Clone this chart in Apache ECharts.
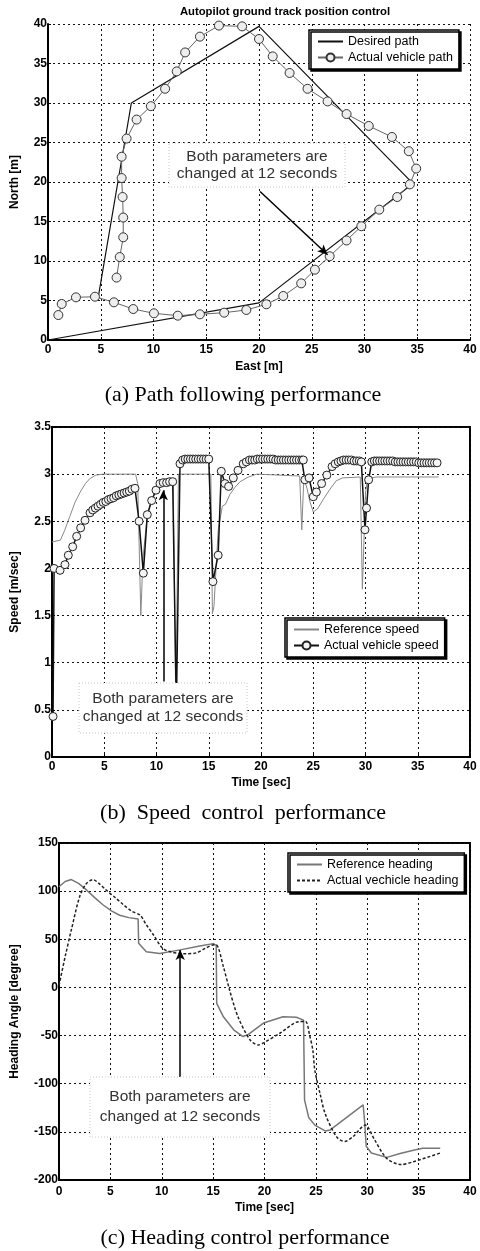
<!DOCTYPE html>
<html>
<head>
<meta charset="utf-8">
<script src="https://cdn.jsdelivr.net/npm/echarts@6/dist/echarts.min.js"></script>
<style>
  html, body { margin: 0; padding: 0; background: #fff; }
  #chart { width: 480px; height: 1251px; }
</style>
</head>
<body>
<div id="chart"></div>
<script>
// ---- (a) ground track ----
var desiredEast  = [0, 20, 34.6, 20, 7.9, 4.8];
var desiredNorth = [0, 4.7, 19.8, 39.7, 30, 5.7];

var actualEast  = [0.98, 1.3, 2.65, 4.45, 6.25, 8.08, 10.04, 12.3, 14.4, 16.7, 18.8, 20.7, 22.3, 24.0, 25.3,
  26.7, 28.3, 29.7, 31.4, 33.1, 34.3, 34.9, 34.2, 32.6, 30.4, 28.3, 26.5, 24.6, 22.9, 21.3, 20.0, 18.4, 16.2,
  14.4, 13.0, 12.2, 11.1, 9.75, 8.4, 7.45, 6.98, 6.98, 7.07, 7.13, 7.13, 6.8, 6.5];
var actualNorth = [3.16, 4.56, 5.4, 5.48, 4.77, 3.92, 3.38, 3.08, 3.25, 3.46, 3.8, 4.52, 5.57, 7.17, 8.9,
  10.6, 12.6, 14.4, 16.5, 18.1, 19.7, 21.7, 23.9, 25.7, 27.1, 28.6, 30.2, 31.8, 33.8, 35.9, 38.1, 39.7, 39.8,
  38.4, 36.4, 34.0, 31.8, 29.6, 27.9, 25.5, 23.2, 20.5, 18.1, 15.5, 13.0, 10.5, 7.9];

// ---- (b) speed ----
var refSpeedTime = [0, 0.8, 1.2, 1.7, 2.2, 2.7, 3.2, 3.6, 4.2, 4.9, 8.0, 8.2, 8.5, 8.7, 9.1, 9.5, 10.0, 10.4,
  11.6, 11.85, 12.1, 15.2, 15.35, 15.5, 15.9, 16.3, 16.6, 17.0, 17.5, 18.0, 18.8, 19.6, 23.7, 23.9, 24.1, 24.4,
  24.7, 25.0, 25.4, 26.0, 26.6, 27.2, 27.8, 29.5, 29.7, 30.0, 30.2, 31.0, 37.0];
var refSpeed = [2.28, 2.30, 2.40, 2.55, 2.70, 2.81, 2.90, 2.95, 2.99, 3.00, 3.00, 2.90, 1.50, 2.10, 2.55, 2.72,
  2.84, 2.90, 2.93, 0.50, 3.00, 3.00, 1.52, 1.60, 2.40, 2.66, 2.68, 2.78, 2.86, 2.92, 2.97, 3.00, 2.98, 2.41,
  2.96, 2.85, 2.70, 2.60, 2.63, 2.74, 2.84, 2.93, 2.96, 2.97, 1.78, 2.80, 2.95, 2.97, 2.97];

var actSpeedTime = [
  0.10, 0.20, 0.77, 1.24, 1.56, 1.98, 2.36, 2.74, 3.16, 3.64,
  3.90, 4.15, 4.40, 4.65, 4.90, 5.15, 5.40, 5.65, 5.90, 6.15,
  6.40, 6.65, 6.90, 7.15, 7.40, 7.65, 7.94, 8.33, 8.74, 9.12,
  9.54, 9.95, 10.33, 10.65, 10.97, 11.25, 11.55, 11.90, 12.25, 12.50,
  12.75, 13.00, 13.25, 13.50, 13.75, 14.00, 14.25, 14.50, 14.75, 15.00,
  15.40, 15.90, 16.20, 16.55, 16.90, 17.35, 17.80, 18.30, 18.60, 18.90,
  19.15, 19.40, 19.65, 19.90, 20.15, 20.40, 20.65, 20.90, 21.15, 21.40,
  21.65, 21.90, 22.15, 22.40, 22.65, 22.90, 23.15, 23.40, 23.65, 23.90,
  24.05, 24.20, 24.60, 25.00, 25.30, 25.80, 26.30, 26.80, 27.10, 27.40,
  27.65, 27.90, 28.15, 28.40, 28.65, 28.90, 29.15, 29.40, 29.60, 29.95,
  30.10, 30.30, 30.60, 30.85, 31.10, 31.35, 31.60, 31.85, 32.10, 32.35,
  32.60, 32.85, 33.10, 33.35, 33.60, 33.85, 34.10, 34.35, 34.60, 34.85,
  35.10, 35.35, 35.60, 35.85, 36.10, 36.35, 36.60, 36.85];
var actSpeed = [
  0.43, 2.00, 1.98, 2.04, 2.14, 2.23, 2.34, 2.43, 2.51, 2.59,
  2.62, 2.64, 2.66, 2.68, 2.70, 2.71, 2.73, 2.74, 2.75, 2.77,
  2.78, 2.79, 2.80, 2.81, 2.82, 2.84, 2.85, 2.50, 1.95, 2.57,
  2.72, 2.83, 2.90, 2.91, 2.91, 2.92, 2.92, 0.50, 3.11, 3.15,
  3.16, 3.16, 3.16, 3.16, 3.16, 3.16, 3.16, 3.16, 3.16, 3.16,
  1.86, 2.14, 3.03, 2.90, 2.87, 2.96, 3.04, 3.11, 3.13, 3.15,
  3.15, 3.15, 3.16, 3.16, 3.16, 3.16, 3.16, 3.16, 3.16, 3.15,
  3.15, 3.15, 3.15, 3.15, 3.15, 3.15, 3.15, 3.15, 3.15, 3.15,
  3.15, 2.94, 2.96, 2.76, 2.81, 2.90, 2.99, 3.08, 3.11, 3.13,
  3.14, 3.15, 3.15, 3.15, 3.15, 3.14, 3.14, 3.14, 3.13, 2.41,
  2.64, 2.94, 3.13, 3.14, 3.14, 3.14, 3.14, 3.14, 3.14, 3.14,
  3.14, 3.13, 3.13, 3.13, 3.13, 3.13, 3.13, 3.13, 3.13, 3.13,
  3.12, 3.12, 3.12, 3.12, 3.12, 3.12, 3.12, 3.12];

// ---- (c) heading ----
var refHdgTime = [0, 0.6, 1.2, 1.9, 2.7, 3.5, 4.3, 5.1, 5.9, 6.8, 7.7, 7.75, 8.5, 9.8, 11.8, 13.7, 15.0, 15.3,
  15.35, 16.0, 17.0, 17.9, 18.4, 19.9, 21.8, 23.1, 23.8, 23.9, 24.3, 24.9, 25.9, 26.4, 28.0, 29.6, 29.75, 29.9,
  30.4, 31.9, 33.2, 34.5, 35.4, 37.1];
var refHdg = [104.6, 110, 112, 108, 101, 93, 85.6, 79.5, 75, 72.5, 71, 46, 37, 35.3, 39, 43, 45.5, 44,
  -16.6, -30.5, -44, -51, -49, -37, -30.5, -31, -34, -117, -135, -143, -149, -148, -135, -122, -140, -165,
  -172, -176.5, -172.5, -169, -167, -167];

var actHdgTime = [0, 0.6, 1.2, 2.0, 2.6, 3.3, 4.0, 4.6, 5.5, 6.3, 7.1, 7.9, 8.5, 9.2, 10.1, 11.0, 11.8, 12.4,
  13.4, 14.3, 15.0, 15.3, 16.0, 16.6, 17.4, 18.6, 19.4, 20.0, 21.5, 23.4, 24.0, 24.4, 24.7, 24.9, 25.4, 25.9,
  27.0, 27.8, 28.6, 29.8, 30.7, 31.9, 33.3, 34.5, 37.1];
var actHdg = [2, 32, 59.7, 94, 107, 112, 107, 101, 93, 85.6, 79, 75, 65, 54.5, 40.5, 36.5, 35.3, 35,
  36, 41, 44, 44, 21.5, -2.6, -30, -54.6, -59.8, -57, -47.6, -35.5, -35.5, -50, -65, -86, -110, -131,
  -155, -160, -155, -143, -158, -177.6, -184, -181, -172];

var timeTicks = [0, 40, 5];

function zip(xs, ys) {
  return xs.map(function(x, i) { return [x, ys[i]]; });
}

var tickFont = '"Liberation Sans", Arial, sans-serif';
var textFont = '"Liberation Sans", Arial, sans-serif';
var serifFont = '"Liberation Serif", "Times New Roman", serif';
var gridDots = { color: '#111', type: [2, 3], width: 1 };

function xAxisFor(gi, name, margin, gap) {
  return {
    gridIndex: gi, type: 'value', min: timeTicks[0], max: timeTicks[1], interval: timeTicks[2],
    axisLine: { onZero: false, lineStyle: { color: '#000', width: 2 } },
    axisTick: { inside: true, length: 3, lineStyle: { color: '#000' } },
    axisLabel: { color: '#000', fontFamily: tickFont, fontWeight: 'bold', fontSize: 12, margin: margin,
      showMinLabel: true, showMaxLabel: true },
    splitLine: { show: true, lineStyle: gridDots },
    name: name, nameLocation: 'middle', nameGap: gap,
    nameTextStyle: { color: '#000', fontFamily: tickFont, fontWeight: 'bold', fontSize: 12 }
  };
}

function yAxisFor(gi, min, max, step, name, gap) {
  return {
    gridIndex: gi, type: 'value', min: min, max: max, interval: step,
    axisLine: { show: true, onZero: false, lineStyle: { color: '#000', width: 2 } },
    axisTick: { show: true, inside: true, length: 3, lineStyle: { color: '#000' } },
    axisLabel: { color: '#000', fontFamily: tickFont, fontWeight: 'bold', fontSize: 12, margin: 1,
      showMinLabel: true, showMaxLabel: true },
    splitLine: { show: true, lineStyle: gridDots },
    name: name, nameLocation: 'middle', nameGap: gap, nameRotate: 90,
    nameTextStyle: { color: '#000', fontFamily: tickFont, fontWeight: 'bold', fontSize: 12 }
  };
}

// entries listed in `plain` get no marker in the legend icon
function legendAt(left, top, names, plain) {
  return {
    data: names.map(function(n) {
      return plain.indexOf(n) >= 0 ? { name: n, itemStyle: { opacity: 0 } } : n;
    }),
    left: left, top: top, orient: 'vertical', align: 'left',
    itemWidth: 25, itemHeight: 10, itemGap: 3, padding: [5, 6, 5, 8],
    backgroundColor: '#fff', borderColor: '#000', borderWidth: 1.5,
    shadowColor: '#000', shadowOffsetX: 2, shadowOffsetY: 2, shadowBlur: 0,
    textStyle: { color: '#000', fontFamily: textFont, fontSize: 12.5 }
  };
}

function arrow(from, to) {
  return {
    silent: true, animation: false, symbol: ['none', 'arrow'], symbolSize: [7, 10],
    label: { show: false },
    lineStyle: { color: '#000', width: 1.5, type: 'solid' },
    data: [[{ coord: from }, { coord: to }]]
  };
}

function note(cx, cy, w, h, lh) {
  return [
    { type: 'rect', z: 100, shape: { x: cx - w / 2, y: cy - h / 2, width: w, height: h },
      style: { fill: '#fff', stroke: '#c8c8c8', lineWidth: 1, lineDash: [1, 2] } },
    { type: 'text', z: 101, x: cx, y: cy,
      style: { text: 'Both parameters are\nchanged at 12 seconds', fill: '#333', font: '15.5px ' + textFont,
        align: 'center', verticalAlign: 'middle', lineHeight: lh } }
  ];
}

function caption(cx, cy, txt) {
  return { type: 'text', z: 101, x: cx, y: cy,
    style: { text: txt, fill: '#000', font: '22px ' + serifFont, align: 'center', verticalAlign: 'middle' } };
}

var chart = echarts.init(document.getElementById('chart'), null, { renderer: 'canvas' });

chart.setOption({
  animation: false,
  backgroundColor: '#fff',
  grid: [
    { left: 48, top: 24, width: 422, height: 316 },
    { left: 52, top: 427, width: 418, height: 330, show: true, borderColor: '#000', borderWidth: 2 },
    { left: 59, top: 843, width: 411, height: 337, show: true, borderColor: '#000', borderWidth: 2 }
  ],
  xAxis: [
    xAxisFor(0, 'East [m]', 4, 21),
    xAxisFor(1, 'Time [sec]', 4, 20),
    xAxisFor(2, 'Time [sec]', 6, 22)
  ],
  yAxis: [
    yAxisFor(0, 0, 40, 5, 'North [m]', 27),
    yAxisFor(1, 0, 3.5, 0.5, 'Speed [m/sec]', 31),
    yAxisFor(2, -200, 150, 50, 'Heading Angle [degree]', 38)
  ],
  legend: [
    legendAt(309, 30, ['Desired path', 'Actual vehicle path'], ['Desired path']),
    legendAt(285, 618, ['Reference speed', 'Actual vehicle speed'], ['Reference speed']),
    legendAt(288, 853, ['Reference heading', 'Actual vechicle heading'], ['Reference heading', 'Actual vechicle heading'])
  ],
  series: [
    { name: 'Desired path', type: 'line', xAxisIndex: 0, yAxisIndex: 0, data: zip(desiredEast, desiredNorth),
      symbol: 'none', lineStyle: { color: '#111', width: 1.2 }, itemStyle: { color: '#111' },
      markLine: arrow([20.1, 18.8], [26.5, 10.8]) },
    { name: 'Actual vehicle path', type: 'line', xAxisIndex: 0, yAxisIndex: 0, data: zip(actualEast, actualNorth),
      symbol: 'circle', symbolSize: 9, showAllSymbol: true,
      lineStyle: { color: '#666', width: 1 },
      itemStyle: { color: '#eee', borderColor: '#333', borderWidth: 1 } },

    { name: 'Reference speed', type: 'line', xAxisIndex: 1, yAxisIndex: 1, data: zip(refSpeedTime, refSpeed),
      symbol: 'none', lineStyle: { color: '#888', width: 1 }, itemStyle: { color: '#888' },
      markLine: arrow([10.65, 0.8], [10.65, 2.83]) },
    { name: 'Actual vehicle speed', type: 'line', xAxisIndex: 1, yAxisIndex: 1, data: zip(actSpeedTime, actSpeed),
      symbol: 'circle', symbolSize: 8, showAllSymbol: true,
      lineStyle: { color: '#111', width: 1.5 },
      itemStyle: { color: '#f4f4f4', borderColor: '#222', borderWidth: 1 } },

    { name: 'Reference heading', type: 'line', xAxisIndex: 2, yAxisIndex: 2, data: zip(refHdgTime, refHdg),
      symbol: 'none', lineStyle: { color: '#777', width: 1.5 }, itemStyle: { color: '#777' },
      markLine: arrow([11.8, -93], [11.8, 39]) },
    { name: 'Actual vechicle heading', type: 'line', xAxisIndex: 2, yAxisIndex: 2, data: zip(actHdgTime, actHdg),
      symbol: 'none', smooth: 0.3,
      lineStyle: { color: '#222', width: 1.5, type: [3, 2] }, itemStyle: { color: '#222' } }
  ],
  graphic: [
    { type: 'text', z: 101, x: 285, y: 12,
      style: { text: 'Autopilot ground track position control', fill: '#000',
        font: 'bold 11.3px ' + tickFont, align: 'center', verticalAlign: 'middle' } },
    caption(243, 395, '(a) Path following performance'),
    caption(243, 813, '(b)  Speed  control  performance'),
    caption(245, 1238, '(c) Heading control performance')
  ].concat(note(257, 165, 176, 44, 16.5), note(163, 708, 168, 50, 18), note(180, 1107, 180, 60, 20))
});
</script>
</body>
</html>
